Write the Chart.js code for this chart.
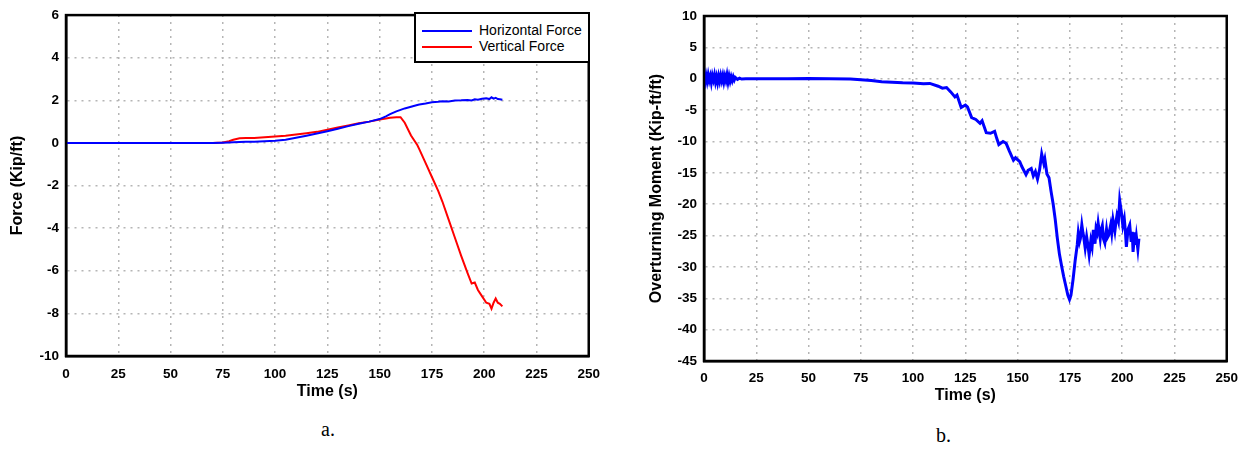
<!DOCTYPE html>
<html>
<head>
<meta charset="utf-8">
<script src="https://cdn.jsdelivr.net/npm/chart.js@4"></script>
<style>
  body { margin: 0; background: #fff; width: 1247px; height: 459px; position: relative; overflow: hidden; }
  .box { position: absolute; top: 0; height: 410px; }
  #boxA { left: 0; width: 610px; }
  #boxB { left: 630px; width: 617px; }
  .legend { position: absolute; left: 414px; top: 12px; width: 176px; height: 51px; box-sizing: border-box;
            border: 2px solid #000; background: #fff; font: 14px "Liberation Sans", Arial, sans-serif; }
  .legend .row { position: absolute; left: 6px; height: 16px; line-height: 16px; white-space: nowrap; }
  .legend .swatch { display: inline-block; width: 50px; height: 2px; vertical-align: middle; margin-right: 7px; }
  .caption { position: absolute; font: 20px "Liberation Serif", "Times New Roman", serif; }
</style>
</head>
<body>
<div class="box" id="boxA"><canvas id="forceChart"></canvas></div>
<div class="box" id="boxB"><canvas id="momentChart"></canvas></div>
<div class="legend" id="legendA"></div>
<div class="caption" style="left:321px; top:418px;">a.</div>
<div class="caption" style="left:936px; top:424px;">b.</div>
<script>
// Figure a: forces vs time
const forceTime = [0, 10, 20, 30, 40, 50, 60, 70, 75, 78, 80, 83, 86, 90, 95, 100, 105, 110, 115, 120,
  125, 130, 135, 140, 145, 150, 153, 155, 158, 160, 162, 165, 168, 169, 172, 175, 178, 180, 183, 186,
  189, 192, 194, 195.5, 197, 199, 201, 202.5, 203.5, 204.5, 205.5, 206.5, 207.5, 208.7];
const horizontalForce = [0, 0, 0, 0, 0, 0, 0, 0, 0.01, 0.02, 0.03, 0.04, 0.05, 0.06, 0.08, 0.1, 0.15, 0.24, 0.34, 0.44,
  0.55, 0.67, 0.79, 0.9, 1.0, 1.12, 1.25, 1.35, 1.48, 1.55, 1.62, 1.7, 1.78, 1.8, 1.85, 1.91, 1.93, 1.96, 1.95, 1.99,
  2.0, 2.02, 1.99, 2.05, 2.03, 2.07, 2.1, 2.06, 2.14, 2.08, 2.12, 2.06, 2.05, 2.03];
const verticalForce = [0, 0, 0, 0, 0, 0, 0, 0, 0.02, 0.08, 0.15, 0.22, 0.23, 0.23, 0.27, 0.3, 0.34, 0.4, 0.46, 0.52,
  0.62, 0.72, 0.82, 0.92, 1.0, 1.1, 1.15, 1.18, 1.2, 1.21, 0.95, 0.35, -0.1, -0.3, -0.95, -1.6, -2.25, -2.75, -3.6, -4.45,
  -5.3, -6.1, -6.6, -6.55, -6.9, -7.2, -7.5, -7.55, -7.78, -7.5, -7.3, -7.5, -7.55, -7.67];

// Figure b: overturning moment vs time
const momentTime = [0, 0.5, 1, 1.5, 2, 2.5, 3, 3.5, 4, 4.5, 5, 5.5, 6, 6.5, 7, 7.5, 8, 8.5, 9, 9.5, 10, 10.5,
  11, 11.5, 12, 12.5, 13, 13.5, 14, 14.5, 15, 16, 17, 18, 20, 25, 30, 40, 50, 60, 70, 75, 80,
  85, 90, 95, 100, 105, 108, 112, 114, 116, 118, 120, 121, 123, 125, 126, 128, 130, 132, 133, 135, 137, 139, 140,
  141, 143, 144.5, 146, 148, 149, 151, 152, 154, 155, 156.5, 157.5, 158.5, 159.5, 160.5, 161.5, 162.5, 163, 164,
  165, 166, 167, 168, 169, 170, 171, 172, 173, 174, 174.8, 175.5, 176.5, 177.5, 178.5, 179, 179.6, 180, 180.7, 181.2,
  181.5, 182.3, 183, 183.6, 184.2, 185, 185.6, 186.2, 187, 187.5, 188, 188.5, 189.5, 190, 190.5, 191.1, 191.7, 192.5,
  193, 193.5, 194.5, 195, 195.6, 196.5, 197, 197.5, 198.2, 198.8, 199.5, 200.3, 201, 201.5, 202, 202.8, 203.6, 204.3,
  204.8, 205.2, 206, 206.4, 206.8, 207.5, 208];
const overturningMoment = [0.2, -0.5, 0.5, -0.4, 0.6, -0.3, 0.4, -0.6, 0.5, -0.2, 0.6, -0.5, 0.3, -0.6, 0.4, -0.4,
  0.5, -0.3, 0.5, -0.5, 0.4, -0.3, 0.6, -0.5, 0.4, -0.4, 0.3, -0.3, 0.3, -0.2, 0.2, -0.1, 0.1, -0.05, 0, 0, 0, 0,
  0.05, 0, -0.05, -0.15, -0.3,
  -0.5, -0.55, -0.65, -0.7, -0.8, -0.75, -1.2, -1.5, -1.4, -2.1, -2.9, -2.6, -4.6, -4.2, -4.5, -6.2, -6.5, -7.1, -6.7,
  -8.6, -8.7, -8.4, -9.5, -10.5, -10.0, -10.3, -11.5, -13.0, -12.6, -13.2, -14.0, -15.3, -14.6, -14.3, -15.5, -14.8,
  -16.0, -14.5, -12.0, -13.5, -12.8, -15.2, -15.8, -18.0, -20.0, -22.5, -25.5, -28.0, -29.8, -31.5, -33.0, -34.5,
  -35.2, -34.5, -32.0, -29.0, -26.5, -24.6, -26.0, -25.5, -23.3, -24.5, -25.0, -27.0, -25.2, -26.5, -28.1, -25.8,
  -26.8, -24.1, -26.3, -23.9, -24.5, -23.0, -25.5, -24.0, -23.4, -25.6, -26.2, -24.0, -25.3, -25.0, -23.3, -24.6,
  -22.5, -24.3, -22.9, -21.8, -22.7, -19.4, -21.0, -23.4, -22.3, -24.2, -26.8, -24.0, -23.3, -26.0, -24.4, -27.6,
  -24.5, -26.5, -25.2, -27.2, -25.5];

const timeTicks = [0, 25, 50, 75, 100, 125, 150, 175, 200, 225, 250];
const forceTicks = [6, 4, 2, 0, -2, -4, -6, -8, -10];
const momentTicks = [10, 5, 0, -5, -10, -15, -20, -25, -30, -35, -40, -45];

const seriesLabels = ['Horizontal Force', 'Vertical Force'];
const seriesColors = ['#0000ff', '#ff0000'];

Chart.defaults.font.family = '"Liberation Sans", Arial, sans-serif';
Chart.defaults.font.size = 13;
Chart.defaults.font.weight = 'bold';
Chart.defaults.color = '#000';

const frame = {
  id: 'frame',
  afterDraw(chart) {
    const {ctx, chartArea: a} = chart;
    ctx.save();
    ctx.strokeStyle = '#000';
    ctx.lineWidth = 2.5;
    ctx.strokeRect(a.left, a.top, a.right - a.left, a.bottom - a.top);
    ctx.restore();
  }
};

function pairs(xs, ys) {
  return xs.map((x, i) => ({x: x, y: ys[i]}));
}

function axes(yTicks, yTitle, yWidth, yTitlePad, xHeight, xTickPad, xTitlePad) {
  const tickFont = {size: 13.5, weight: 'bold'};
  const titleFont = {size: 16, weight: 'bold'};
  const grid = {color: '#b5b5b5', lineWidth: 1.5, drawTicks: false};
  const border = {color: '#000', width: 2.5, dash: [2, 5]};
  return {
    x: {
      type: 'linear', min: timeTicks[0], max: timeTicks[timeTicks.length - 1],
      afterBuildTicks: s => { s.ticks = timeTicks.map(v => ({value: v})); },
      afterFit: s => { s.height = xHeight; },
      ticks: {autoSkip: false, maxRotation: 0, color: '#000', font: tickFont, padding: xTickPad},
      grid: grid, border: border,
      title: {display: true, text: 'Time (s)', color: '#000', font: titleFont, padding: {top: 0, bottom: xTitlePad}}
    },
    y: {
      type: 'linear', min: yTicks[yTicks.length - 1], max: yTicks[0],
      afterBuildTicks: s => { s.ticks = yTicks.slice().reverse().map(v => ({value: v})); },
      afterFit: s => { s.width = yWidth; },
      ticks: {autoSkip: false, color: '#000', font: tickFont, padding: 7},
      grid: grid, border: border,
      title: {display: true, text: yTitle, color: '#000', font: titleFont, padding: {top: yTitlePad, bottom: 0}}
    }
  };
}

new Chart(document.getElementById('forceChart'), {
  type: 'line',
  data: {
    datasets: [{
      label: seriesLabels[0],
      data: pairs(forceTime, horizontalForce),
      borderColor: seriesColors[0],
      borderWidth: 2,
      pointRadius: 0
    }, {
      label: seriesLabels[1],
      data: pairs(forceTime, verticalForce),
      borderColor: seriesColors[1],
      borderWidth: 2,
      pointRadius: 0
    }]
  },
  options: {
    responsive: true,
    maintainAspectRatio: false,
    animation: false,
    layout: {padding: {top: 12, right: 20, bottom: 0, left: 0}},
    plugins: {legend: {display: false}, tooltip: {enabled: false}},
    scales: axes(forceTicks, 'Force (Kip/ft)', 66, 8.4, 54, 10, 9)
  },
  plugins: [frame]
});

new Chart(document.getElementById('momentChart'), {
  type: 'line',
  data: {
    datasets: [{
      label: 'Overturning Moment',
      data: pairs(momentTime, overturningMoment),
      borderColor: '#0000ff',
      borderWidth: 3,
      pointRadius: 0
    }]
  },
  options: {
    responsive: true,
    maintainAspectRatio: false,
    animation: false,
    layout: {padding: {top: 16, right: 18, bottom: 0, left: 0}},
    plugins: {legend: {display: false}, tooltip: {enabled: false}},
    scales: axes(momentTicks, 'Overturning Moment (Kip-ft/ft)', 74, 17.4, 49, 9, 5)
  },
  plugins: [frame]
});

// legend box for figure a
const legend = document.getElementById('legendA');
seriesLabels.forEach((label, i) => {
  const row = document.createElement('div');
  row.className = 'row';
  row.style.top = (8 + i * 15.5) + 'px';
  const sw = document.createElement('span');
  sw.className = 'swatch';
  sw.style.background = seriesColors[i];
  row.appendChild(sw);
  row.appendChild(document.createTextNode(label));
  legend.appendChild(row);
});
</script>
</body>
</html>
